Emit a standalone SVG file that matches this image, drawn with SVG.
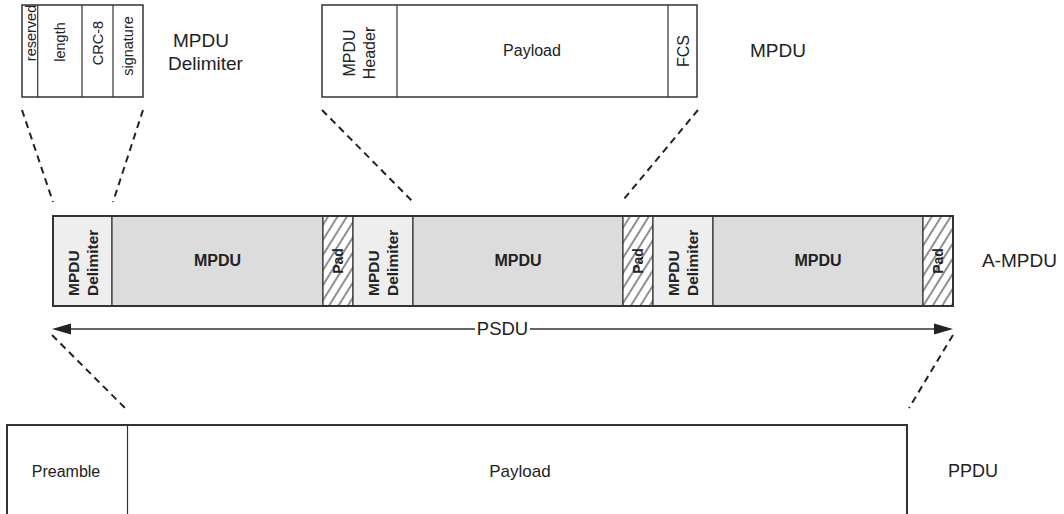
<svg xmlns="http://www.w3.org/2000/svg" width="1064" height="514" viewBox="0 0 1064 514">
  <style>
    text { font-family: "Liberation Sans", Arial, sans-serif; fill: #222; }
    .box { fill: #fff; stroke: #333; stroke-width: 1.5; }
    .div { stroke: #333; stroke-width: 1.2; fill: none; }
    .delim { fill: #eeeeee; stroke: #333; stroke-width: 1.2; }
    .mpdu { fill: #dcdcdc; stroke: #333; stroke-width: 1.2; }
    .pad { fill: url(#hatch); stroke: #333; stroke-width: 1.2; }
    .frame { fill: none; stroke: #333; stroke-width: 2; }
    .dash { stroke: #222; stroke-width: 2; stroke-dasharray: 7 5; fill: none; }
    .lbl { font-size: 19px; }
    .fld { font-size: 14.5px; text-anchor: middle; dominant-baseline: central; }
    .mid { font-size: 16px; text-anchor: middle; dominant-baseline: central; }
    .bold { font-weight: bold; }
  </style>
  <defs>
    <pattern id="hatch" patternUnits="userSpaceOnUse" width="8" height="20" patternTransform="rotate(32)">
      <rect width="8" height="20" fill="#fff"/>
      <line x1="1" y1="0" x2="1" y2="20" stroke="#333" stroke-width="1.1"/>
    </pattern>
  </defs>

  <!-- MPDU delimiter fields -->
  <g id="delimiter-detail">
    <rect class="box" x="22" y="5" width="121" height="92"/>
    <line class="div" x1="37.7" y1="5" x2="37.7" y2="97"/>
    <line class="div" x1="82" y1="5" x2="82" y2="97"/>
    <line class="div" x1="113" y1="5" x2="113" y2="97"/>
    <text class="fld" transform="translate(30.5,33) rotate(-90)">reserved</text>
    <text class="fld" transform="translate(60,42) rotate(-90)">length</text>
    <text class="fld" transform="translate(97.5,43) rotate(-90)">CRC-8</text>
    <text class="fld" transform="translate(128,46) rotate(-90)">signature</text>
    <text class="lbl" x="173" y="47">MPDU</text>
    <text class="lbl" x="168" y="70">Delimiter</text>
  </g>

  <!-- MPDU fields -->
  <g id="mpdu-detail">
    <rect class="box" x="322" y="5" width="375" height="92"/>
    <line class="div" x1="397" y1="5" x2="397" y2="97"/>
    <line class="div" x1="668" y1="5" x2="668" y2="97"/>
    <text class="mid" style="font-size:16px" transform="translate(349,53) rotate(-90)">MPDU</text>
    <text class="mid" style="font-size:16px" transform="translate(369,53) rotate(-90)">Header</text>
    <text class="mid" x="532" y="50">Payload</text>
    <text class="mid" style="font-size:16px" transform="translate(683,51) rotate(-90)">FCS</text>
    <text class="lbl" x="750" y="57">MPDU</text>
  </g>

  <!-- A-MPDU: delimiter / MPDU / pad, three times -->
  <g id="a-mpdu">
    <rect class="delim" x="53" y="216" width="59" height="90"/>
    <rect class="mpdu" x="112" y="216" width="211" height="90"/>
    <rect class="pad" x="323" y="216" width="30" height="90"/>
    <rect class="delim" x="353" y="216" width="60" height="90"/>
    <rect class="mpdu" x="413" y="216" width="210" height="90"/>
    <rect class="pad" x="623" y="216" width="30" height="90"/>
    <rect class="delim" x="653" y="216" width="60" height="90"/>
    <rect class="mpdu" x="713" y="216" width="210" height="90"/>
    <rect class="pad" x="923" y="216" width="30" height="90"/>
    <rect class="frame" x="53" y="216" width="900" height="90"/>

    <text class="bold" style="font-size:15.5px" transform="translate(79,296) rotate(-90)">MPDU</text>
    <text class="bold" style="font-size:15.5px" transform="translate(98,296) rotate(-90)">Delimiter</text>
    <text class="bold" style="font-size:15.5px" transform="translate(379,296) rotate(-90)">MPDU</text>
    <text class="bold" style="font-size:15.5px" transform="translate(398,296) rotate(-90)">Delimiter</text>
    <text class="bold" style="font-size:15.5px" transform="translate(679,296) rotate(-90)">MPDU</text>
    <text class="bold" style="font-size:15.5px" transform="translate(698,296) rotate(-90)">Delimiter</text>

    <text class="mid bold" x="217.5" y="260">MPDU</text>
    <text class="mid bold" x="518" y="260">MPDU</text>
    <text class="mid bold" x="818" y="260">MPDU</text>

    <text class="mid bold" style="font-size:14px" transform="translate(338,261) rotate(-90)">Pad</text>
    <text class="mid bold" style="font-size:14px" transform="translate(638,261) rotate(-90)">Pad</text>
    <text class="mid bold" style="font-size:14px" transform="translate(938,261) rotate(-90)">Pad</text>

    <text class="lbl" x="982" y="267">A-MPDU</text>
  </g>

  <!-- PPDU -->
  <g id="ppdu">
    <rect class="box" style="stroke-width:2" x="7" y="425" width="900" height="110"/>
    <line class="div" x1="127.5" y1="425" x2="127.5" y2="514"/>
    <text class="mid" x="66" y="471">Preamble</text>
    <text class="mid" style="font-size:17px" x="520" y="471">Payload</text>
    <text class="lbl" style="font-size:18px" x="948" y="477">PPDU</text>
  </g>

  <!-- expansion lines and PSDU span -->
  <g id="connectors">
    <line class="dash" x1="22" y1="110" x2="53" y2="202"/>
    <line class="dash" x1="143" y1="110" x2="113" y2="202"/>
    <line class="dash" x1="322" y1="110" x2="413" y2="202"/>
    <line class="dash" x1="698" y1="110" x2="624" y2="199"/>
    <line class="dash" x1="52" y1="335" x2="128" y2="411"/>
    <line class="dash" x1="953" y1="335" x2="909" y2="408"/>

    <line stroke="#333" stroke-width="1.5" x1="68" y1="329" x2="475" y2="329"/>
    <line stroke="#333" stroke-width="1.5" x1="530" y1="329" x2="937" y2="329"/>
    <polygon fill="#222" points="52,329 71,323.5 71,334.5"/>
    <polygon fill="#222" points="953,329 934,323.5 934,334.5"/>
    <text class="mid" style="font-size:18.5px" x="502.5" y="328">PSDU</text>
  </g>
</svg>
